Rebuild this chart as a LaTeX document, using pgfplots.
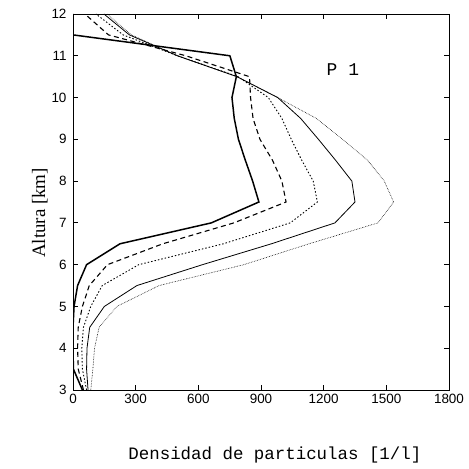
\documentclass[border=0pt]{standalone}
\usepackage{fontspec}
\setmainfont{Liberation Serif}
\setsansfont{Liberation Sans}
\setmonofont{Liberation Mono}
\usepackage{pgfplots}
\usepackage{pgfplotstable}
\pgfplotsset{compat=1.18}

\pgfplotstableread{
alt c1 c2 c3 c4 c5
3.0 45 50 65 72 85
3.5 2 25 45 65 95
4.0 0 22 42 67 103
4.5 0 25 50 80 125
5.0 5 45 85 150 210
5.5 22 78 140 306 412
6.0 65 165 315 620 818
6.5 225 430 720 950 1130
7.0 662 770 1040 1254 1460
7.5 890 1020 1170 1350 1535
8.0 860 1000 1150 1335 1490
8.5 825 955 1095 1257 1410
9.0 792 895 1045 1175 1290
9.5 772 862 1000 1090 1165
10.0 761 850 935 980 980
10.5 782 845 790 785 785
11.0 751 540 500 500 500
11.5 0 170 240 270 280
12.0 0 57 110 148 163
}\data

\begin{document}
\begin{tikzpicture}
\useasboundingbox (-73bp,-79bp) rectangle (396bp,390bp);
\begin{axis}[
  at={(0,0)}, anchor=south west,
  scale only axis, width=376bp, height=376bp,
  xmin=0, xmax=1800, ymin=3, ymax=12,
  xtick={0,300,...,1800},
  xticklabels={0,300,600,900,1200,1500,1800},
  ytick={3,...,12},
  tick align=inside,
  major tick length=5bp,
  tick style={black, line width=0.8pt},
  axis line style={line width=0.9pt},
  every tick label/.append style={font=\fontsize{13.5}{15}\selectfont\sffamily},
  /pgf/number format/assume math mode=true,
  xticklabel style={yshift=-0.5bp},
  yticklabel style={xshift=-3bp},
  xlabel={\ttfamily\fontsize{17.5}{19}\selectfont Densidad de particulas [1/l]},
  xlabel style={at={(axis description cs:0.537,-0.173)}, anchor=center},
  ylabel={\fontsize{19}{21}\selectfont Altura [km]},
  ylabel style={at={(axis description cs:-0.088,0.471)}, anchor=center, rotate=0},
  clip=true,
]
\addplot[black, line width=1.5pt] table[x=c1, y=alt] {\data};
\addplot[black, line width=1.1pt, dash pattern=on 5pt off 3.5pt] table[x=c2, y=alt] {\data};
\addplot[black, line width=0.9pt, dash pattern=on 1.5pt off 2pt] table[x=c3, y=alt] {\data};
\addplot[black, line width=0.8pt] table[x=c4, y=alt] {\data};
\addplot[black, line width=0.6pt, dash pattern=on 0.6pt off 1pt] table[x=c5, y=alt] {\data};
\node[font=\ttfamily\fontsize{18}{20}\selectfont] at (axis cs:1292,10.68) {P 1};
\end{axis}
\end{tikzpicture}
\end{document}
